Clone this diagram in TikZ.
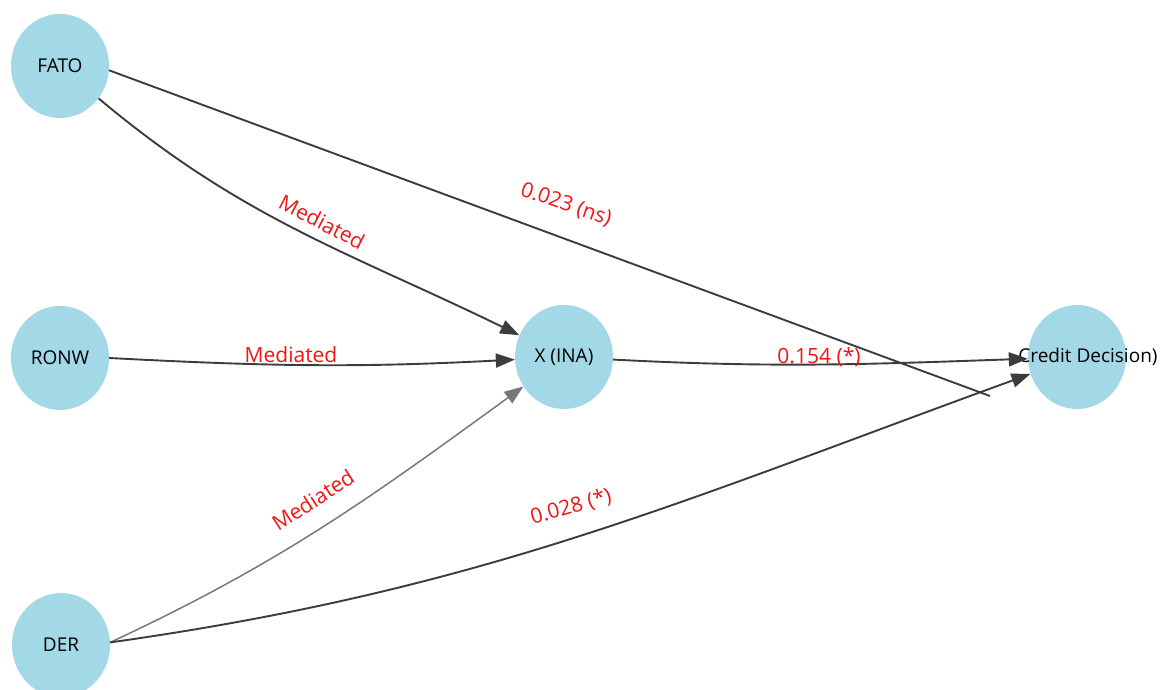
\documentclass[tikz,border=0pt]{standalone}
\usepackage{fontspec}
\setmainfont{Open Sans}
\usepackage{tikz}
\usetikzlibrary{shapes.geometric, arrows.meta}
\definecolor{NodeBlue}{RGB}{163, 216, 230}
\definecolor{EdgeDark}{RGB}{60, 60, 60}
\definecolor{EdgeGray}{RGB}{120, 120, 120}
\definecolor{LabelRed}{RGB}{240, 20, 20}

\begin{document}
\begin{tikzpicture}[x=1pt, y=1pt,
    var/.style={ellipse, fill=NodeBlue, minimum width=98pt, minimum height=104pt, inner sep=0pt},
    varname/.style={text=black, font=\fontsize{19}{21}\selectfont},
    path/.style={line width=1.9pt, EdgeDark, -{Triangle[length=19pt, width=14pt]}},
    coef/.style={text=LabelRed, font=\fontsize{21}{24}\selectfont}]
    \useasboundingbox (0, 0) rectangle (1161, 690);

    % Variables
    \node[var] (fato) at (60, 624) {};
    \node[var] (ronw) at (60, 332) {};
    \node[var] (der) at (61, 45) {};
    \node[var] (ina) at (564, 333) {};
    \node[var] (cd) at (1077, 333) {};
    \node[varname] (fatoname) at (fato) {FATO};
    \node[varname] (ronwname) at (ronw) {RONW};
    \node[varname] (dername) at (der) {DER};
    \node[varname] (inaname) at (ina) {X (INA)};
    \node[varname] (cdname) at (1088, 333) {Credit Decision)};
    \coordinate (fatoend) at (990, 294);

    % Paths into X (INA)
    \draw[path] (fato.-40) to[out=-40, in=154] (ina);
    \draw[path] (ronw.east) to[out=-3, in=183] (ina);
    \draw[path, EdgeGray, line width=1.5pt] (der.3) to[out=25, in=216] (ina);

    % Paths into Credit Decision
    \draw[line width=1.9pt, EdgeDark] (fato.-5) -- (fatoend);
    \draw[path] (ina.-3) to[out=-3, in=182] (cd);
    \draw[path] (der.3) to[out=8, in=200] (cd);

    % Coefficients
    \node[coef, rotate=-27] (fatomed) at (322, 468) {Mediated};
    \node[coef, rotate=-19] (fatocoef) at (566, 485) {0.023 (ns)};
    \node[coef] (ronwmed) at (291, 335) {Mediated};
    \node[coef, rotate=33] (dermed) at (313, 190) {Mediated};
    \node[coef, rotate=16] (dercoef) at (571, 183) {0.028 (*)};
    \node[coef] (inacoef) at (819, 333) {0.154 (*)};
\end{tikzpicture}
\end{document}
